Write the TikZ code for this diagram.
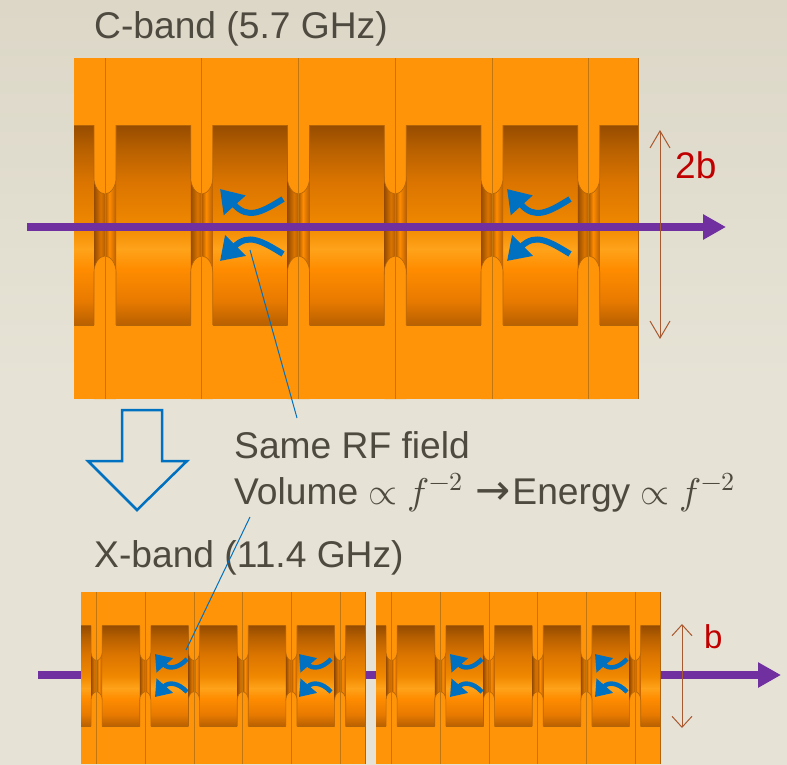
\documentclass[tikz,border=0pt]{standalone}
\usepackage{fontspec}
\usepackage{unicode-math}
\setmainfont{Liberation Sans}
\setmathfont{Latin Modern Math}
\newfontfamily\arrowfont{DejaVu Sans}
\usetikzlibrary{arrows.meta}

\definecolor{slidetext}{HTML}{4F4A3F}
\definecolor{copper}{HTML}{FF9408}
\definecolor{culine}{HTML}{C2760F}
\definecolor{cuedge}{HTML}{B46408}
\definecolor{beam}{HTML}{7030A0}
\definecolor{fieldblue}{HTML}{0070C0}
\definecolor{dimbrown}{HTML}{A9592F}
\definecolor{dimred}{HTML}{C00000}

\pgfdeclareverticalshading{slideshade}{100bp}{rgb(0bp)=(0.902,0.890,0.839); rgb(50bp)=(0.902,0.890,0.839); rgb(75bp)=(0.863,0.843,0.780); rgb(100bp)=(0.863,0.843,0.780)}
\pgfdeclareverticalshading{cellshade}{100bp}{rgb(0bp)=(0.72,0.376,0); rgb(25bp)=(0.72,0.376,0); rgb(31bp)=(0.91,0.478,0); rgb(39bp)=(1,0.549,0); rgb(44bp)=(1,0.639,0.102); rgb(50bp)=(0.941,0.533,0); rgb(61bp)=(0.855,0.455,0); rgb(69bp)=(0.72,0.376,0); rgb(75bp)=(0.588,0.298,0); rgb(100bp)=(0.588,0.298,0)}
\pgfdeclarehorizontalshading{gapshade}{100bp}{rgb(0bp)=(0.588,0.298,0); rgb(25bp)=(0.588,0.298,0); rgb(40bp)=(0.855,0.455,0); rgb(49bp)=(0.72,0.376,0); rgb(51bp)=(0.72,0.376,0); rgb(60bp)=(1,0.549,0); rgb(75bp)=(0.72,0.376,0); rgb(100bp)=(0.72,0.376,0)}

\tikzset{
  title/.style={anchor=base west, inner sep=0pt, text=slidetext, font=\fontsize{37.2}{37.2}\selectfont},
  dimlabel/.style={anchor=base west, inner sep=0pt, text=dimred, font=\fontsize{37}{37}\selectfont},
  beamline/.style={beam, line width=8pt, -{Triangle[length=23pt,width=24pt]}},
  leader/.style={fieldblue, line width=1pt},
  dimline/.style={dimbrown, line width=1pt, {Straight Barb[length=#1pt,width=20pt]}-{Straight Barb[length=#1pt,width=20pt]}},
  bigfield/.style={fieldblue, line width=6pt, -{Triangle[length=22pt,width=28pt]}},
  smallfield/.style={fieldblue, line width=4.5pt, -{Triangle[length=15pt,width=21pt]}},
}

% one accelerating structure, #1,#2 = top left corner, #3 = scale
\newcommand{\cavity}[3]{
  \begin{scope}[shift={(#1,#2)},x=#3pt,y=-#3pt]
    \fill[copper] (0,0) rectangle (564,341);
    \shade[shading=cellshade] (0,67) rectangle (564,267);
    \draw[cuedge, line width=0.6pt] (0,67) -- (564,67) (0,267) -- (564,267);
    \foreach \c in {31,127.75,224.5,321.25,418,514.75} {
      \begin{scope}[shift={(\c,0)}]
        \shade[shading=gapshade] (-11,118) rectangle (11,216);
        \fill[copper] (-11,0) -- (-11,120) .. controls (-11,128) and (-6,136) .. (0,136)
          .. controls (6,136) and (11,128) .. (11,120) -- (11,0) -- cycle;
        \fill[copper] (-11,341) -- (-11,214) .. controls (-11,206) and (-6,198) .. (0,198)
          .. controls (6,198) and (11,206) .. (11,214) -- (11,341) -- cycle;
        \draw[cuedge, line width=0.6pt] (-11,67) -- (-11,120) .. controls (-11,128) and (-6,136) .. (0,136)
          .. controls (6,136) and (11,128) .. (11,120) -- (11,67);
        \draw[cuedge, line width=0.6pt] (-11,267) -- (-11,214) .. controls (-11,206) and (-6,198) .. (0,198)
          .. controls (6,198) and (11,206) .. (11,214) -- (11,267);
        \draw[culine, line width=1pt] (0,0) -- (0,341);
      \end{scope}
    }
    \draw[cuedge, line width=0.8pt] (564,0) -- (564,341);
  \end{scope}
}

\begin{document}
\begin{tikzpicture}[x=1pt,y=-1pt]
\useasboundingbox (0,0) rectangle (787,764);
\shade[shading=slideshade] (0,0) rectangle (787,764);

\coordinate (xstart) at (38,675);
\coordinate (xend) at (781,675);
\coordinate (cstart) at (27,227);
\coordinate (cend) at (726,227);

\draw[beamline] (xstart) -- (xend); % X-band beam runs behind
\cavity{81}{592}{0.5035}
\cavity{376}{592}{0.5035}
\cavity{74}{58}{1}
\draw[beamline] (cstart) -- (cend); % C-band beam

% field arrows C-band
\foreach \d in {0,287} {
  \begin{scope}[shift={(\d,0)}]
    \draw[bigfield] (283,199) .. controls (262,212) and (248,220) .. (220,189);
    \draw[bigfield] (283,254) .. controls (262,241) and (248,233) .. (220,261);
  \end{scope}
}
% field arrows X-band
\foreach \d in {0,144,295,440} {
  \begin{scope}[shift={(\d,0)}]
    \draw[smallfield] (187,659) .. controls (178,669) and (168,669) .. (155,654);
    \draw[smallfield] (187,692) .. controls (178,682) and (168,682) .. (155,697);
  \end{scope}
}

% height of the cells
\coordinate (bigtop) at (660,130);
\coordinate (bigbot) at (660,339);
\coordinate (smalltop) at (682,624);
\coordinate (smallbot) at (682,728);
\draw[dimline=17] (bigtop) -- (bigbot);
\draw[dimline=11] (smalltop) -- (smallbot);
\node[dimlabel] (twob) at (675,178) {2b};
\node[dimlabel, font=\fontsize{33}{33}\selectfont] (oneb) at (704,648) {b};

% scaling arrow
\draw[fieldblue, line width=2.5pt, miter limit=4] (122,410) -- (162,410) -- (162,461) -- (187,461)
  -- (137,510) -- (88,461) -- (122,461) -- cycle;

\node[title] (cband) at (94,38) {C-band (5.7 GHz)};
\node[title] (xband) at (94,567) {X-band (11.4 GHz)};
\node[title] (same) at (234,458) {Same RF field};
\node[title] (volume) at (234,504) {Volume $\propto f^{-2}$\hspace{12pt}{\arrowfont\fontsize{42}{42}\selectfont →}\hspace{2pt}Energy $\propto f^{-2}$};

\coordinate (lead1a) at (250,250);
\coordinate (lead1b) at (297,418);
\coordinate (lead2a) at (250,517);
\coordinate (lead2b) at (186,650);
\draw[leader] (lead1a) -- (lead1b);
\draw[leader] (lead2a) -- (lead2b);

\end{tikzpicture}
\end{document}
